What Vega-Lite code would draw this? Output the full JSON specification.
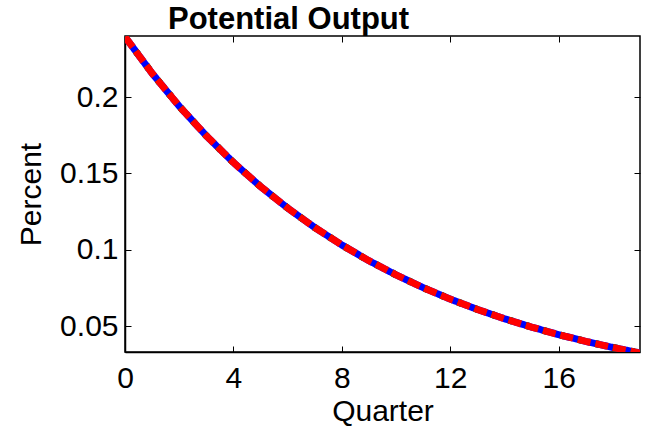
{
  "$schema": "https://vega.github.io/schema/vega-lite/v6.json",
  "autosize": "none",
  "width": 515,
  "height": 316,
  "padding": {"left": 125, "top": 36, "right": 12, "bottom": 84},
  "background": "white",
  "config": {
    "font": "Liberation Sans",
    "view": {"stroke": "black", "strokeWidth": 1.5},
    "axis": {"grid": false, "domainColor": "black", "tickColor": "black", "labelColor": "black", "titleColor": "black", "labelFont": "Liberation Sans", "titleFont": "Liberation Sans", "labelFontSize": 30, "titleFontSize": 30, "titleFontWeight": "normal", "tickSize": -6, "domainWidth": 1.5, "tickWidth": 1}
  },
  "title": {"text": "Potential Output", "anchor": "start", "frame": "group", "dx": 43, "offset": 0, "fontSize": 31, "fontWeight": "bold", "font": "Liberation Sans", "color": "black"},
  "data": {"values": [
    {"q": 0, "a": 0.2395, "b": 0.2395, "c": 0.2395},
    {"q": 1, "a": 0.21555, "b": 0.21555, "c": 0.21555},
    {"q": 2, "a": 0.194, "b": 0.194, "c": 0.194},
    {"q": 3, "a": 0.1746, "b": 0.1746, "c": 0.1746},
    {"q": 4, "a": 0.15714, "b": 0.15714, "c": 0.15714},
    {"q": 5, "a": 0.14142, "b": 0.14142, "c": 0.14142},
    {"q": 6, "a": 0.12728, "b": 0.12728, "c": 0.12728},
    {"q": 7, "a": 0.11455, "b": 0.11455, "c": 0.11455},
    {"q": 8, "a": 0.1031, "b": 0.1031, "c": 0.1031},
    {"q": 9, "a": 0.09279, "b": 0.09279, "c": 0.09279},
    {"q": 10, "a": 0.08351, "b": 0.08351, "c": 0.08351},
    {"q": 11, "a": 0.07516, "b": 0.07516, "c": 0.07516},
    {"q": 12, "a": 0.06764, "b": 0.06764, "c": 0.06764},
    {"q": 13, "a": 0.06088, "b": 0.06088, "c": 0.06088},
    {"q": 14, "a": 0.05479, "b": 0.05479, "c": 0.05479},
    {"q": 15, "a": 0.04931, "b": 0.04931, "c": 0.04931},
    {"q": 16, "a": 0.04438, "b": 0.04438, "c": 0.04438},
    {"q": 17, "a": 0.03994, "b": 0.03994, "c": 0.03994},
    {"q": 18, "a": 0.03595, "b": 0.03595, "c": 0.03595},
    {"q": 19, "a": 0.03235, "b": 0.03235, "c": 0.03235}
  ]},
  "transform": [{"fold": ["a", "b", "c"], "as": ["series", "value"]}],
  "layer": [
    {
      "mark": {"type": "line", "strokeWidth": 7, "clip": true},
      "encoding": {
        "x": {"field": "q", "type": "quantitative", "scale": {"domain": [0, 19], "nice": false, "zero": false},
              "axis": {"values": [0, 4, 8, 12, 16], "title": "Quarter", "labelPadding": 17, "titlePadding": 3, "labelFlush": false}},
        "y": {"field": "value", "type": "quantitative", "scale": {"domain": [0.033, 0.24], "nice": false, "zero": false},
              "axis": {"values": [0.05, 0.1, 0.15, 0.2], "title": "Percent", "labelPadding": 13, "titlePadding": 13, "labelFlush": false, "format": "~g"}},
        "color": {"field": "series", "type": "nominal", "scale": {"domain": ["a", "b", "c"], "range": ["#0000ff", "#008000", "#ff0000"]}, "legend": null},
        "strokeDash": {"field": "series", "type": "nominal", "scale": {"domain": ["a", "b", "c"], "range": [[1, 0], [4, 14], [13, 5]]}, "legend": null},
        "order": {"field": "series"}
      }
    },
    {
      "mark": {"type": "line", "opacity": 0, "clip": true},
      "encoding": {
        "x": {"field": "q", "type": "quantitative", "axis": {"orient": "top", "values": [0, 4, 8, 12, 16], "labels": false, "title": null, "domain": false}},
        "y": {"field": "value", "type": "quantitative", "axis": {"orient": "right", "values": [0.05, 0.1, 0.15, 0.2], "labels": false, "title": null, "domain": false}},
        "detail": {"field": "series"}
      }
    }
  ],
  "resolve": {"axis": {"x": "independent", "y": "independent"}}
}
